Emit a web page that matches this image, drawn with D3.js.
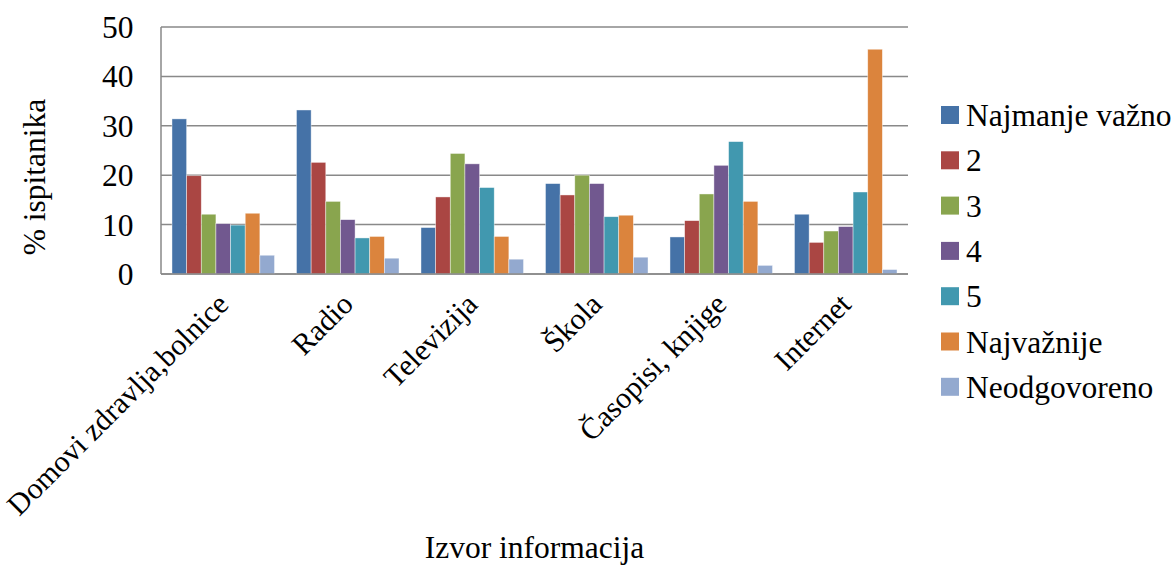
<!DOCTYPE html>
<html>
<head>
<meta charset="utf-8">
<script src="https://cdn.jsdelivr.net/npm/d3@7"></script>
<style>
  body { margin: 0; background: #fff; }
  svg text { font-family: "Times New Roman", "Liberation Serif", "DejaVu Serif", serif; fill: #000; }
</style>
</head>
<body>
<script>
// data
var categories = ["Domovi zdravlja,bolnice", "Radio", "Televizija", "Škola", "Časopisi, knjige", "Internet"];
var seriesNames = ["Najmanje važno", "2", "3", "4", "5", "Najvažnije", "Neodgovoreno"];
var najmanjeVazno = [31.4, 33.2, 9.4, 18.3, 7.5, 12.1];
var s2 = [19.9, 22.6, 15.6, 16.0, 10.8, 6.4];
var s3 = [12.1, 14.7, 24.4, 20.0, 16.2, 8.7];
var s4 = [10.2, 11.0, 22.3, 18.3, 22.0, 9.6];
var s5 = [9.9, 7.3, 17.5, 11.6, 26.8, 16.6];
var najvaznije = [12.3, 7.6, 7.6, 11.9, 14.7, 45.5];
var neodgovoreno = [3.8, 3.2, 3.0, 3.4, 1.75, 0.9];
var yTicks = [0, 10, 20, 30, 40, 50];
var colors = ["#4572A7", "#AA4643", "#89A54E", "#71588F", "#4198AF", "#DB843D", "#93A9CF"];

var allSeries = [najmanjeVazno, s2, s3, s4, s5, najvaznije, neodgovoreno];

var width = 1176, height = 565;
var plot = { left: 161, right: 908, top: 27, bottom: 274 };
var serif = "'Times New Roman', 'Liberation Serif', 'DejaVu Serif', serif";

var svg = d3.select("body").append("svg").attr("width", width).attr("height", height)
  .attr("font-family", serif);

var x0 = d3.scaleBand().domain(categories).range([plot.left, plot.right]).padding(0);
var x1 = d3.scaleBand().domain(seriesNames).range([0, x0.bandwidth()]).paddingInner(0).paddingOuter(0.75);
var y = d3.scaleLinear().domain([0, 50]).range([plot.bottom, plot.top]);

// gridlines
svg.append("g").selectAll("line").data(yTicks).enter().append("line")
  .attr("x1", plot.left).attr("x2", plot.right)
  .attr("y1", function(d) { return y(d); }).attr("y2", function(d) { return y(d); })
  .attr("stroke", "#898989").attr("stroke-width", 1.5);

// left axis line
svg.append("line")
  .attr("x1", plot.left).attr("x2", plot.left)
  .attr("y1", plot.top).attr("y2", plot.bottom)
  .attr("stroke", "#898989").attr("stroke-width", 1.5);

// bars
var groups = svg.append("g").selectAll("g").data(categories).enter().append("g")
  .attr("transform", function(d) { return "translate(" + x0(d) + ",0)"; });

groups.selectAll("rect").data(function(c, ci) {
  return seriesNames.map(function(s, si) { return { s: s, si: si, v: allSeries[si][ci] }; });
}).enter().append("rect")
  .attr("x", function(d) { return x1(d.s); })
  .attr("width", x1.bandwidth())
  .attr("y", function(d) { return y(d.v); })
  .attr("height", function(d) { return y(0) - y(d.v); })
  .attr("fill", function(d) { return colors[d.si]; })
  .attr("stroke", "rgba(255,255,255,0.6)").attr("stroke-width", 0.7);

// baseline on top of bars
svg.append("line")
  .attr("x1", plot.left).attr("x2", plot.right)
  .attr("y1", y(0)).attr("y2", y(0))
  .attr("stroke", "#898989").attr("stroke-width", 1.5);

// y tick labels
svg.append("g").selectAll("text").data(yTicks).enter().append("text")
  .attr("x", 133.5).attr("y", function(d) { return y(d); })
  .attr("dy", "0.35em").attr("text-anchor", "end")
  .style("font-size", "31.5px")
  .text(function(d) { return d; });

// x category labels
svg.append("g").selectAll("text").data(categories).enter().append("text")
  .attr("transform", function(d) {
    return "translate(" + (x0(d) + x0.bandwidth() / 2 + 7) + "," + 306 + ") rotate(-45)";
  })
  .attr("text-anchor", "end")
  .style("font-size", "30px")
  .text(function(d) { return d; });

// axis titles
svg.append("text")
  .attr("x", (plot.left + plot.right) / 2).attr("y", 558)
  .attr("text-anchor", "middle").style("font-size", "31.5px")
  .text("Izvor informacija");

svg.append("text")
  .attr("transform", "translate(45," + 177 + ") rotate(-90)")
  .attr("text-anchor", "middle").style("font-size", "31.5px")
  .text("% ispitanika");

// legend
var legend = svg.append("g").selectAll("g").data(seriesNames).enter().append("g")
  .attr("transform", function(d, i) { return "translate(941," + (115 + i * 45.3) + ")"; });

legend.append("rect")
  .attr("x", 0).attr("y", -9).attr("width", 18).attr("height", 18)
  .attr("fill", function(d, i) { return colors[i]; });

legend.append("text")
  .attr("x", 25).attr("dy", "0.35em")
  .style("font-size", "31.5px")
  .text(function(d) { return d; });
</script>
</body>
</html>
